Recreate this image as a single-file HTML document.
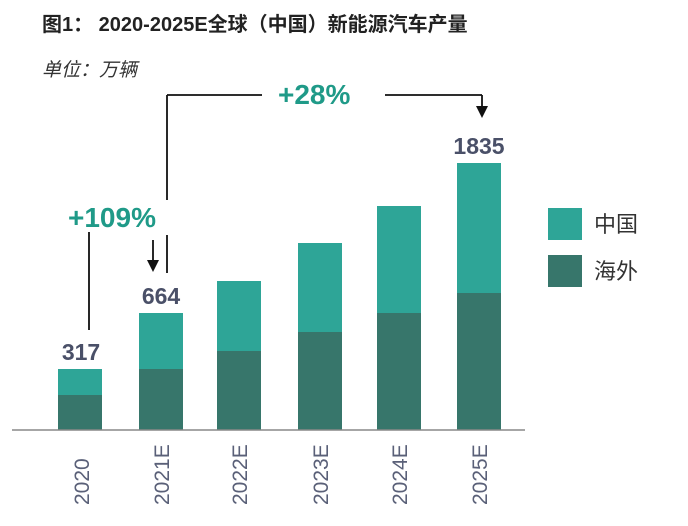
<!DOCTYPE html>
<html><head><meta charset="utf-8"><style>
body{margin:0;background:#fff;width:688px;height:526px;overflow:hidden}
svg{display:block}
</style></head><body>
<svg width="688" height="526" viewBox="0 0 688 526" xmlns="http://www.w3.org/2000/svg" font-family="'Liberation Sans','Noto Sans CJK SC',sans-serif">
<text x="42" y="31" font-size="20" font-weight="bold" fill="#222">图1： 2020-2025E全球（中国）新能源汽车产量</text>
<text x="42" y="76" font-size="19" font-style="italic" fill="#333">单位：万辆</text>
<g fill="#37766b">
<rect x="58" y="395" width="44" height="35"/>
<rect x="139" y="369" width="44" height="61"/>
<rect x="217" y="351" width="44" height="79"/>
<rect x="298" y="332" width="44" height="98"/>
<rect x="377" y="313" width="44" height="117"/>
<rect x="457" y="293" width="44" height="137"/>
</g>
<g fill="#2ea597">
<rect x="58" y="369" width="44" height="26"/>
<rect x="139" y="313" width="44" height="56"/>
<rect x="217" y="281" width="44" height="70"/>
<rect x="298" y="243" width="44" height="89"/>
<rect x="377" y="206" width="44" height="107"/>
<rect x="457" y="163" width="44" height="130"/>
</g>
<line x1="12" y1="430" x2="525" y2="430" stroke="#888" stroke-width="1.5"/>
<g font-size="21" fill="#5a6078">
<text transform="translate(89,505) rotate(-90)">2020</text>
<text transform="translate(169,505) rotate(-90)">2021E</text>
<text transform="translate(247,505) rotate(-90)">2022E</text>
<text transform="translate(328,505) rotate(-90)">2023E</text>
<text transform="translate(407,505) rotate(-90)">2024E</text>
<text transform="translate(487,505) rotate(-90)">2025E</text>
</g>
<g font-size="23" font-weight="bold" fill="#4a5068" text-anchor="middle">
<text x="81" y="360">317</text>
<text x="161" y="304">664</text>
<text x="479" y="154">1835</text>
</g>
<g stroke="#111" stroke-width="1.8" fill="none">
<line x1="89" y1="232" x2="89" y2="330"/>
<line x1="167" y1="95" x2="167" y2="200"/>
<line x1="167" y1="235" x2="167" y2="273"/>
<line x1="153" y1="240" x2="153" y2="262"/>
<line x1="167" y1="95" x2="262" y2="95"/>
<line x1="385" y1="95" x2="482" y2="95"/>
<line x1="482" y1="95" x2="482" y2="108"/>
</g>
<polygon points="147,260 159,260 153,272" fill="#111"/>
<polygon points="476,106 488,106 482,118" fill="#111"/>
<g font-size="28" font-weight="bold" fill="#1f9a88">
<text x="68" y="227">+109%</text>
<text x="278" y="104">+28%</text>
</g>
<rect x="548" y="208" width="34" height="32" fill="#2ea597"/>
<rect x="548" y="255" width="34" height="32" fill="#37766b"/>
<g font-size="22" fill="#333">
<text x="594" y="232">中国</text>
<text x="594" y="279">海外</text>
</g>
</svg>
</body></html>
